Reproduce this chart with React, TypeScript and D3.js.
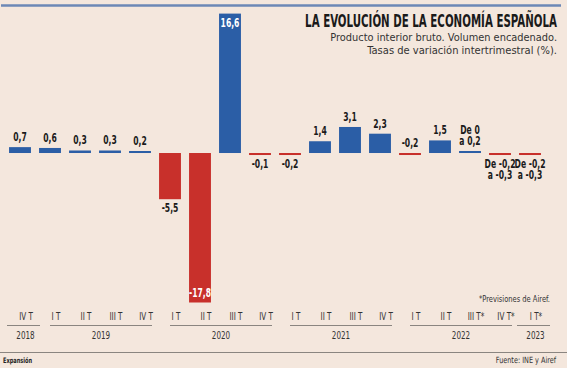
import React, {useLayoutEffect, useRef} from 'react';
import * as d3 from 'd3';

// quarters, one bar each
const quarters = ['2018-4', '2019-1', '2019-2', '2019-3', '2019-4', '2020-1', '2020-2', '2020-3', '2020-4',
  '2021-1', '2021-2', '2021-3', '2021-4', '2022-1', '2022-2', '2022-3', '2022-4', '2023-1'];
const tickLabels = ['IV T', 'I T', 'II T', 'III T', 'IV T', 'I T', 'II T', 'III T', 'IV T',
  'I T', 'II T', 'III T', 'IV T', 'I T', 'II T', 'III T*', 'IV T*', 'I T*'];
const values = [0.7, 0.6, 0.3, 0.3, 0.2, -5.5, -17.8, 16.6, -0.1, -0.2, 1.4, 3.1, 2.3, -0.2, 1.5, 0.2, -0.2, -0.2];
const valueLabels = [['0,7'], ['0,6'], ['0,3'], ['0,3'], ['0,2'], ['-5,5'], ['-17,8'], ['16,6'], ['-0,1'],
  ['-0,2'], ['1,4'], ['3,1'], ['2,3'], ['-0,2'], ['1,5'], ['De 0', 'a 0,2'], ['De -0,2', 'a -0,3'], ['De -0,2', 'a -0,3']];
// where the label goes: above, below, inside top, inside bottom
const labelPos = ['up', 'up', 'up', 'up', 'up', 'down', 'inBottom', 'inTop', 'down',
  'down', 'up', 'up', 'up', 'up', 'up', 'up', 'down', 'down'];
const years = [
  {year: '2018', from: 0, to: 0},
  {year: '2019', from: 1, to: 4},
  {year: '2020', from: 5, to: 8},
  {year: '2021', from: 9, to: 12},
  {year: '2022', from: 13, to: 16},
  {year: '2023', from: 17, to: 17},
];

const W = 567;
const H = 368;
const BLUE = '#2b5ea6';
const RED = '#c8302b';
const BG = '#f4e7dd';
const narrow = "'DejaVu Sans Condensed','DejaVu Sans',sans-serif";

// squeezed text, no narrow font installed
const Txt = ({x, y, anchor = 'middle', size, bold = false, fill = '#1a1a1a', sx = 0.78, children}: any) => (
  <text transform={`translate(${x},${y}) scale(${sx},1)`} textAnchor={anchor} fontFamily={narrow}
        fontWeight={bold ? 'bold' : 'normal'} fontSize={size} fill={fill}>{children}</text>
);

// right aligned text squeezed to a given width
const FitText = ({x, y, width, size, family, bold = false, fill, children}: any) => {
  const ref = useRef<SVGTextElement>(null);
  useLayoutEffect(() => {
    const el = ref.current;
    if (!el) return;
    const len = el.getComputedTextLength();
    const s = len > 0 ? width / len : 1;
    el.setAttribute('transform', `translate(${x},${y}) scale(${s},1)`);
  }, [x, y, width]);
  return (
    <text ref={ref} transform={`translate(${x},${y})`} textAnchor="end" fontFamily={family}
          fontWeight={bold ? 'bold' : 'normal'} fontSize={size} fill={fill}>{children}</text>
  );
};

const App = () => {
  const x = d3.scaleBand<string>().domain(quarters).range([5, 545]).paddingInner(0.27).paddingOuter(0.135);
  const y = d3.scaleLinear().domain([d3.min(values)!, d3.max(values)!]).range([302.5, 13.6]);
  const bw = x.bandwidth();

  return (
    <svg width={W} height={H} style={{display: 'block', background: BG}}>
      <style>{`body{margin:0}`}</style>
      <rect width={W} height={H} fill={BG} />
      <line x1={1} x2={561} y1={5.5} y2={5.5} stroke="#6c88b6" strokeWidth={2.5} />

      <FitText x={557} y={27} width={252} size={17} family={narrow} bold fill="#1a1a1a">
        LA EVOLUCIÓN DE LA ECONOMÍA ESPAÑOLA</FitText>
      <FitText x={557} y={41} width={227} size={10.5} family={narrow} fill="#333">
        Producto interior bruto. Volumen encadenado.</FitText>
      <FitText x={557} y={54} width={190} size={10.5} family={narrow} fill="#333">
        Tasas de variación intertrimestral (%).</FitText>

      {quarters.map((q, i) => {
        const v = values[i];
        const y0 = y(0);
        const yv = y(v);
        let top = Math.min(y0, yv);
        let h = Math.abs(y0 - yv);
        if (h < 2) { h = 2; top = v >= 0 ? y0 - 2 : y0; }
        const cx = x(q)! + bw / 2;
        const pos = labelPos[i];
        const lines = valueLabels[i];
        const inside = pos === 'inTop' || pos === 'inBottom';
        let ly: number;
        if (pos === 'up') ly = top - 6 - (lines.length - 1) * 11;
        else if (pos === 'down') ly = top + h + 13;
        else if (pos === 'inTop') ly = top + 13;
        else ly = top + h - 6;
        return (
          <g key={q}>
            <rect x={x(q)} y={top} width={bw} height={h} fill={v >= 0 ? BLUE : RED} />
            {lines.map((l, k) => (
              <Txt key={k} x={cx} y={ly + k * 11} size={11.5} bold sx={0.74}
                   fill={inside ? '#fff' : '#1a1a1a'}>{l}</Txt>
            ))}
          </g>
        );
      })}

      <Txt x={550} y={302} anchor="end" size={8.5} fill="#333" sx={0.88}>*Previsiones de Airef.</Txt>

      {quarters.map((q, i) => (
        <Txt key={q} x={x(q)! + bw / 2 + 6} y={320} size={10} fill="#333" sx={0.8}>{tickLabels[i]}</Txt>
      ))}

      {years.map(g => {
        const a = x(quarters[g.from])! + bw / 2;
        const b = x(quarters[g.to])! + bw / 2;
        const lone = g.from === g.to;
        const x1 = lone ? a - 13 : a;
        const x2 = lone ? b + 20 : b + 12;
        return (
          <g key={g.year}>
            <line x1={x1} x2={x2} y1={325.5} y2={325.5} stroke="#8a8580" strokeWidth={1} />
            <Txt x={(x1 + x2) / 2 + (lone ? 2 : 0)} y={338.5} size={10} fill="#333" sx={0.8}>{g.year}</Txt>
          </g>
        );
      })}

      <line x1={0} x2={W} y1={352.5} y2={352.5} stroke="#8a8580" strokeWidth={1} />
      <Txt x={3} y={363} anchor="start" size={7.5} bold fill="#222" sx={0.75}>Expansión</Txt>
      <Txt x={556} y={363} anchor="end" size={8.5} fill="#333" sx={0.85}>Fuente: INE y Airef</Txt>
    </svg>
  );
};

export default App;
